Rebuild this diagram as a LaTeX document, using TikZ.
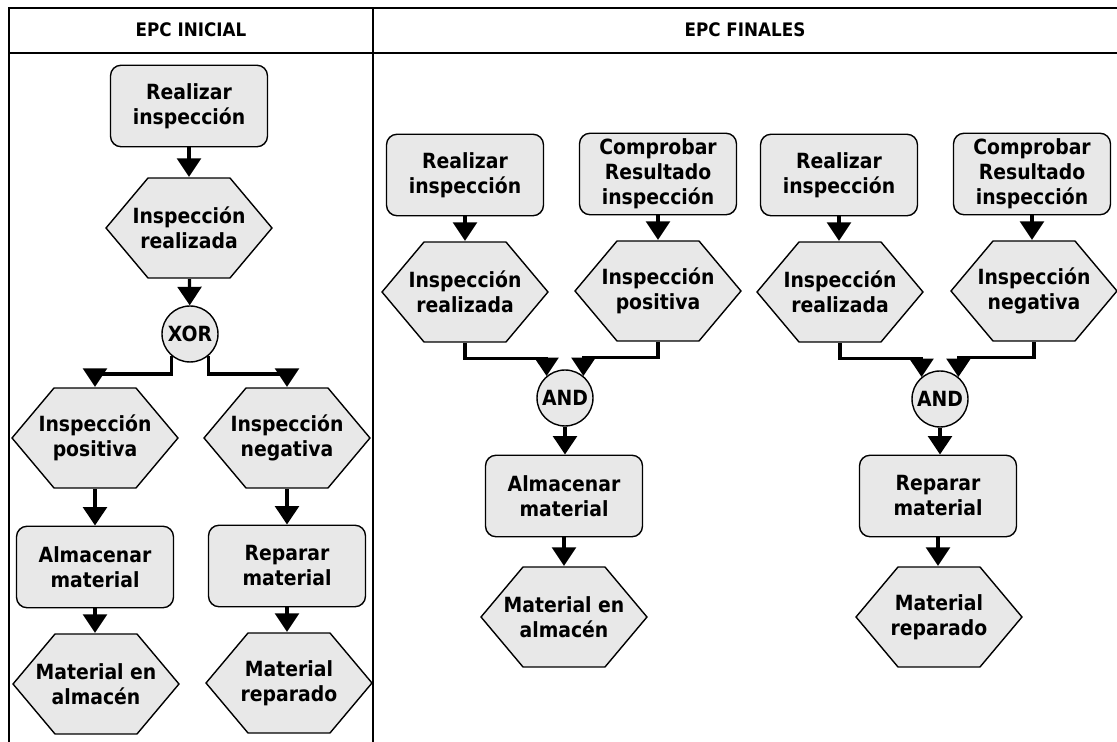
\documentclass[tikz,border=0pt]{standalone}
\usepackage{fontspec}
\setmainfont{DejaVu Sans}[FakeStretch=0.9]
\usepackage{tikz}
\usetikzlibrary{arrows.meta}
\definecolor{boxgray}{RGB}{232,232,232}

\begin{document}
\begin{tikzpicture}[x=0.02cm, y=-0.02cm,
        every node/.style={font=\bfseries\fontsize{11.9}{14.2}\selectfont, align=center},
        func/.style={draw, line width=0.8pt, fill=boxgray, rounded corners=6pt, minimum width=3.14cm, minimum height=1.63cm, inner sep=1pt},
        event/.style={minimum width=3.32cm+2pt, minimum height=2cm+0.9pt, inner sep=1pt,
            path picture={\draw[line width=0.8pt, fill=boxgray] ([xshift=-1.66cm]path picture bounding box.center)
                -- ++(0.84cm,1cm) -- ++(1.64cm,0) -- ++(0.84cm,-1cm) -- ++(-0.84cm,-1cm) -- ++(-1.64cm,0) -- cycle;}},
        conn/.style={draw, line width=0.8pt, fill=boxgray, circle, minimum size=1.12cm, inner sep=0pt},
        flow/.style={line width=1.8pt, -{Triangle[width=13.5pt, length=10.5pt]}},
        head/.style={font=\bfseries\fontsize{10.6}{12}\selectfont}]
        \useasboundingbox (0,0) rectangle (1117,742);

        % table
        \draw[line width=1pt] (9,742) -- (9,8) -- (1117,8);
        \draw[line width=1pt] (9,53) -- (1117,53);
        \draw[line width=1pt] (373,8) -- (373,742);
        \node[head] (hini) at (191,30) {EPC INICIAL};
        \node[head] (hfin) at (745,30) {EPC FINALES};

        % initial EPC
        \node[func] (ri) at (189,106) {Realizar\\inspección};
        \node[event] (ir) at (189,228) {Inspección\\realizada};
        \node[conn] (xor) at (190,334) {XOR};
        \node[event] (ip) at (95,438) {Inspección\\positiva};
        \node[event] (in) at (287,438) {Inspección\\negativa};
        \node[func] (am) at (95,567) {Almacenar\\material};
        \node[func] (rm) at (287,566) {Reparar\\material};
        \node[event] (ma) at (96,684) {Material en\\almacén};
        \node[event] (mr) at (289,683) {Material\\reparado};

        \draw[flow] (ri) -- (ir);
        \draw[flow] (ir) -- (xor);
        \draw[flow] (xor.230) -- ++(0,18) -| (ip.north);
        \draw[flow] (xor.310) -- ++(0,18) -| (in.north);
        \draw[flow] (ip) -- (am);
        \draw[flow] (in) -- (rm);
        \draw[flow] (am.south) -- (am.south |- ma.north);
        \draw[flow] (rm.south) -- (rm.south |- mr.north);

        % final EPCs
        \node[func] (ri1) at (465,175) {Realizar\\inspección};
        \node[func] (cr1) at (658,174) {Comprobar\\Resultado\\inspección};
        \node[event] (ir1) at (465,292) {Inspección\\realizada};
        \node[event] (ip1) at (658,291) {Inspección\\positiva};
        \node[conn] (and1) at (565,398) {AND};
        \node[func] (am1) at (564,496) {Almacenar\\material};
        \node[event] (ma1) at (564,617) {Material en\\almacén};

        \draw[flow] (ri1) -- (ir1);
        \draw[flow] (cr1) -- (ip1);
        \draw[flow] (ir1.south) -- ++(0,15) -| (and1.130);
        \draw[flow] (ip1.south) -- ++(0,15) -| (and1.50);
        \draw[flow] (and1.south) -- (and1.south |- am1.north);
        \draw[flow] (am1) -- (ma1);

        \node[func] (ri2) at (839,175) {Realizar\\inspección};
        \node[func] (cr2) at (1032,174) {Comprobar\\Resultado\\inspección};
        \node[event] (ir2) at (840,292) {Inspección\\realizada};
        \node[event] (in2) at (1034,291) {Inspección\\negativa};
        \node[conn] (and2) at (940,399) {AND};
        \node[func] (rm2) at (938,496) {Reparar\\material};
        \node[event] (mr2) at (939,617) {Material\\reparado};

        \draw[flow] (ri2.south) -- (ri2.south |- ir2.north);
        \draw[flow] (cr2.south) -- (cr2.south |- in2.north);
        \draw[flow] (ir2.south) -- ++(0,15) -| (and2.130);
        \draw[flow] (in2.south) -- ++(0,15) -| (and2.50);
        \draw[flow] (and2.south) -- (and2.south |- rm2.north);
        \draw[flow] (rm2.south) -- (rm2.south |- mr2.north);
\end{tikzpicture}
\end{document}
